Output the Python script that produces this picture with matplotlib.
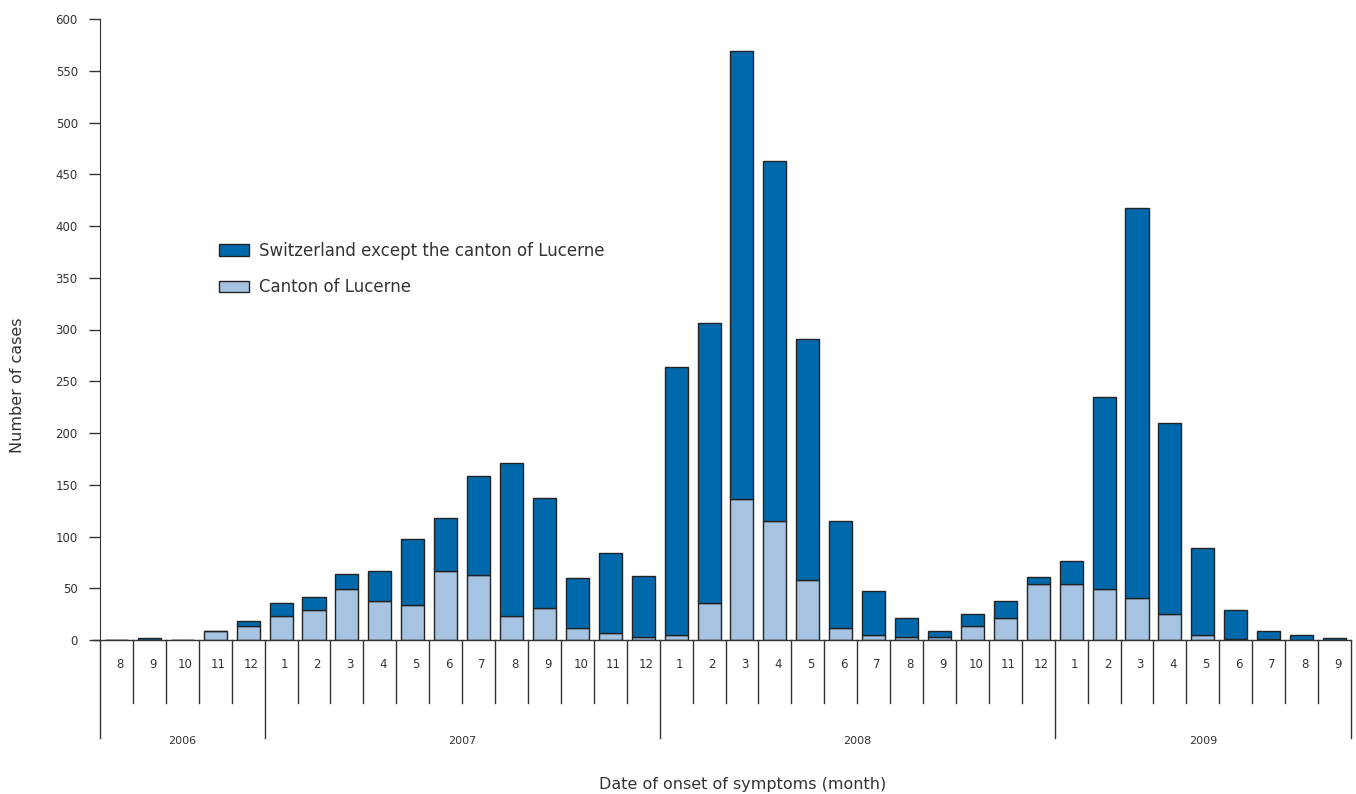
import numpy as np
import matplotlib.pyplot as plt
from matplotlib.patches import Patch

# monthly cases, Aug 2006 .. Sep 2009
month_labels = ['8', '9', '10', '11', '12',
                '1', '2', '3', '4', '5', '6', '7', '8', '9', '10', '11', '12',
                '1', '2', '3', '4', '5', '6', '7', '8', '9', '10', '11', '12',
                '1', '2', '3', '4', '5', '6', '7', '8', '9']
years = ['2006', '2007', '2008', '2009']
months_per_year = [5, 12, 12, 9]

lucerne = [0, 0, 0, 9, 14,
           23, 29, 49, 38, 34, 67, 63, 23, 31, 12, 7, 3,
           5, 36, 136, 115, 58, 12, 5, 3, 3, 14, 21, 54,
           54, 49, 41, 25, 5, 1, 1, 0, 0]
rest_of_ch = [0, 2, 0, 0, 4,
              13, 13, 15, 29, 64, 51, 95, 148, 106, 48, 77, 59,
              259, 270, 433, 348, 233, 103, 42, 18, 6, 11, 17, 7,
              22, 186, 376, 185, 84, 28, 8, 5, 2]

dark = '#0069ab'
light = '#a6c3e2'
edge = '#222222'
txt = '#333333'

fig = plt.figure(figsize=(13.56, 7.94), dpi=100)
ax = fig.add_axes([100 / 1356, 1 - 640 / 794, 1251 / 1356, 621 / 794])

x = np.arange(len(month_labels))
ax.bar(x, lucerne, width=0.7, color=light, edgecolor=edge, linewidth=1)
ax.bar(x, rest_of_ch, width=0.7, bottom=lucerne, color=dark, edgecolor=edge, linewidth=1)

ax.set_xlim(-0.5, len(month_labels) - 0.5)
ax.set_ylim(0, 600)
ax.set_yticks(np.arange(0, 601, 50))
ax.tick_params(axis='y', direction='out', length=8, width=1, color=txt,
               labelsize=8.5, labelcolor=txt, pad=8)
ax.set_xticks([])
for s in ['top', 'right', 'bottom']:
    ax.spines[s].set_visible(False)
ax.spines['left'].set_color(txt)

# baseline, a little past the y axis
ax.plot([-0.72, len(month_labels) - 0.5], [0, 0], color=txt, lw=1, clip_on=False)

# month cells and year groups under the axis
trans = ax.get_xaxis_transform()
year_edges = np.concatenate([[0], np.cumsum(months_per_year)]) - 0.5
for b in np.arange(len(month_labels) + 1) - 0.5:
    if b in year_edges:
        ax.plot([b, b], [0, -0.158], color=txt, lw=1, transform=trans, clip_on=False)
    else:
        ax.plot([b, b], [0, -0.101], color=txt, lw=1, transform=trans, clip_on=False)
for i, lab in enumerate(month_labels):
    ax.text(i + 0.1, -0.04, lab, transform=trans, ha='center', va='center',
            fontsize=8.5, color=txt)
for i, yr in enumerate(years):
    ax.text((year_edges[i] + year_edges[i + 1]) / 2, -0.163, yr, transform=trans,
            ha='center', va='center', fontsize=8, color=txt)

ax.text(0.514, -0.233, 'Date of onset of symptoms (month)', transform=ax.transAxes,
        ha='center', va='center', fontsize=11.5, color=txt)
ax.set_ylabel('Number of cases', fontsize=11.5, color=txt)
ax.yaxis.set_label_coords(-0.06, 0.41)

handles = [Patch(facecolor=dark, edgecolor=edge),
           Patch(facecolor=light, edgecolor=edge)]
ax.legend(handles, ['Switzerland except the canton of Lucerne', 'Canton of Lucerne'],
          loc='upper left', bbox_to_anchor=(0.083, 0.665), frameon=False,
          fontsize=12, handlelength=1.8, handleheight=0.7, labelspacing=1.1,
          handletextpad=0.6, labelcolor=txt)

fig.savefig('out.png', dpi=100)
